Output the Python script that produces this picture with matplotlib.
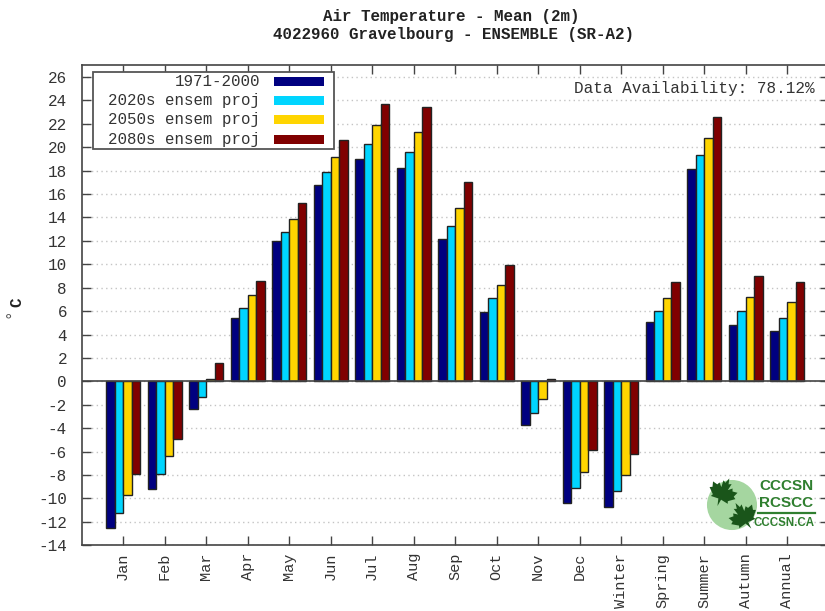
import numpy as np
import matplotlib
matplotlib.use("Agg")
import matplotlib.pyplot as plt
from matplotlib.patches import Rectangle, Polygon

# ------------------- DATA -------------------
categories = ["Jan", "Feb", "Mar", "Apr", "May", "Jun", "Jul", "Aug", "Sep", "Oct", "Nov", "Dec",
              "Winter", "Spring", "Summer", "Autumn", "Annual"]
baseline = [-12.5, -9.2, -2.4, 5.4, 12.0, 16.8, 19.0, 18.2, 12.2, 5.9, -3.7, -10.4, -10.7, 5.1, 18.1, 4.8, 4.3]
proj_2020s = [-11.2, -7.9, -1.3, 6.3, 12.8, 17.9, 20.3, 19.6, 13.3, 7.1, -2.7, -9.1, -9.4, 6.0, 19.3, 6.0, 5.4]
proj_2050s = [-9.7, -6.4, 0.2, 7.4, 13.9, 19.2, 21.9, 21.3, 14.8, 8.2, -1.5, -7.7, -8.0, 7.1, 20.8, 7.2, 6.8]
proj_2080s = [-7.9, -4.9, 1.6, 8.6, 15.2, 20.6, 23.7, 23.4, 17.0, 9.9, 0.2, -5.9, -6.2, 8.5, 22.6, 9.0, 8.5]
series_labels = ["1971-2000", "2020s ensem proj", "2050s ensem proj", "2080s ensem proj"]
series_colors = ["#000080", "#00d5ff", "#ffd500", "#800000"]
yticks = list(range(-14, 27, 2))

plt.rcParams['font.family'] = ['Liberation Mono', 'DejaVu Sans Mono']
plt.rcParams['axes.unicode_minus'] = False
W, H = 825, 611
grey = "#444444"
text_col = "#333333"

fig = plt.figure(figsize=(W / 100, H / 100), dpi=100)
# right edge of the frame falls just outside the picture, as in the original
ax = fig.add_axes([81.6 / W, 1 - 545.3 / H, (828.6 - 81.6) / W, 480 / H])

# ------------------- BARS -------------------
x = np.arange(len(categories))
bar_w = 0.205
for i, vals in enumerate([baseline, proj_2020s, proj_2050s, proj_2080s]):
    ax.bar(x + (i - 1.5) * bar_w, vals, bar_w, color=series_colors[i], edgecolor="#222222",
           linewidth=1.0, zorder=3)

ax.axhline(0, color=grey, lw=1.2, zorder=4)
ax.set_xlim(-1, 17)
ax.set_ylim(-14, 27)
ax.set_yticks(yticks)
ax.set_xticks(x)
ax.set_xticklabels(categories, rotation=90, fontsize=11, color=text_col)
ax.tick_params(axis='x', direction='in', length=6.5, width=1, color=grey, top=True, pad=5.5)
ax.tick_params(axis='y', direction='in', length=6.5, width=1, color=grey, right=True, labelsize=11.5,
               labelcolor=text_col, pad=10.5)
ax.grid(axis='y', color="#c4c4c4", linestyle=(0, (1, 2.4)), linewidth=1, zorder=1)
ax.set_axisbelow(True)
for s in ax.spines.values():
    s.set_color(grey)
    s.set_linewidth(1.2)

# ------------------- TITLE -------------------
fig.text(451 / W, 1 - 17 / H, "Air Temperature - Mean (2m)", ha="center", va="center",
         fontsize=11.45, fontweight="bold", color="#222222")
fig.text(453.5 / W, 1 - 35 / H, "4022960 Gravelbourg - ENSEMBLE (SR-A2)", ha="center", va="center",
         fontsize=11.45, fontweight="bold", color="#222222")
fig.text(16.5 / W, 1 - 302.5 / H, "C", rotation=90, ha="center", va="center",
         fontsize=11.5, fontweight="bold", color="#222222")
fig.text(13 / W, 1 - 313 / H, "°", rotation=90, ha="center", va="center",
         fontsize=11.5, color="#555555")
fig.text(815 / W, 1 - 88 / H, "Data Availability: 78.12%", ha="right", va="center",
         fontsize=11.55, color=text_col)

# ------------------- LEGEND -------------------
fig.add_artist(Rectangle((93 / W, 1 - 149 / H), 241 / W, 77 / H, transform=fig.transFigure,
                         facecolor="white", edgecolor="#555555", lw=1.3, zorder=5))
for i, lab in enumerate(series_labels):
    yp = 81.5 + i * 19.2
    fig.text(260 / W, 1 - yp / H, lab, ha="right", va="center", fontsize=11.3, color=text_col, zorder=6)
    fig.add_artist(Rectangle((274 / W, 1 - (yp + 4.5) / H), 50 / W, 9 / H, transform=fig.transFigure,
                             facecolor=series_colors[i], edgecolor="none", zorder=6))

# ------------------- LOGO -------------------
logo = fig.add_axes([0, 0, 1, 1], facecolor="none")
logo.set_xlim(0, W)
logo.set_ylim(H, 0)
logo.axis("off")
logo.scatter([732], [505], s=1300, color="#a5d6a0", edgecolor="none", zorder=1)

# rough maple leaf outline, half a leaf mirrored
half = [(0, -1), (0.12, -0.62), (0.3, -0.72), (0.24, -0.25), (0.48, -0.48), (0.56, -0.3), (0.9, -0.36),
        (0.78, -0.02), (0.95, 0.08), (0.55, 0.42), (0.62, 0.58), (0.1, 0.52), (0.06, 1.0)]
leaf = np.array(half + [(-a, b) for a, b in half[::-1][1:-1]])
for cx, cy, ang in [(723, 492, 25), (743, 516, -30)]:
    t = np.radians(ang)
    rot = np.array([[np.cos(t), -np.sin(t)], [np.sin(t), np.cos(t)]])
    logo.add_patch(Polygon(leaf @ rot.T * 15 + [cx, cy], closed=True, facecolor="#1a551a",
                           edgecolor="none", zorder=2))
logo.text(786, 486, "CCCSN", ha="center", va="center", fontsize=11, fontweight="bold",
          family=["Liberation Sans"], color="#2f7f2f")
logo.text(786, 503, "RCSCC", ha="center", va="center", fontsize=11, fontweight="bold",
          family=["Liberation Sans"], color="#2f7f2f")
logo.plot([758, 815], [513, 513], color="#2f7f2f", lw=1.6)
logo.text(783.5, 523, "CCCSN.CA", ha="center", va="center", fontsize=8.3, fontweight="bold",
          family=["Liberation Sans"], color="#2f7f2f")

fig.savefig("out.png", dpi=100)
